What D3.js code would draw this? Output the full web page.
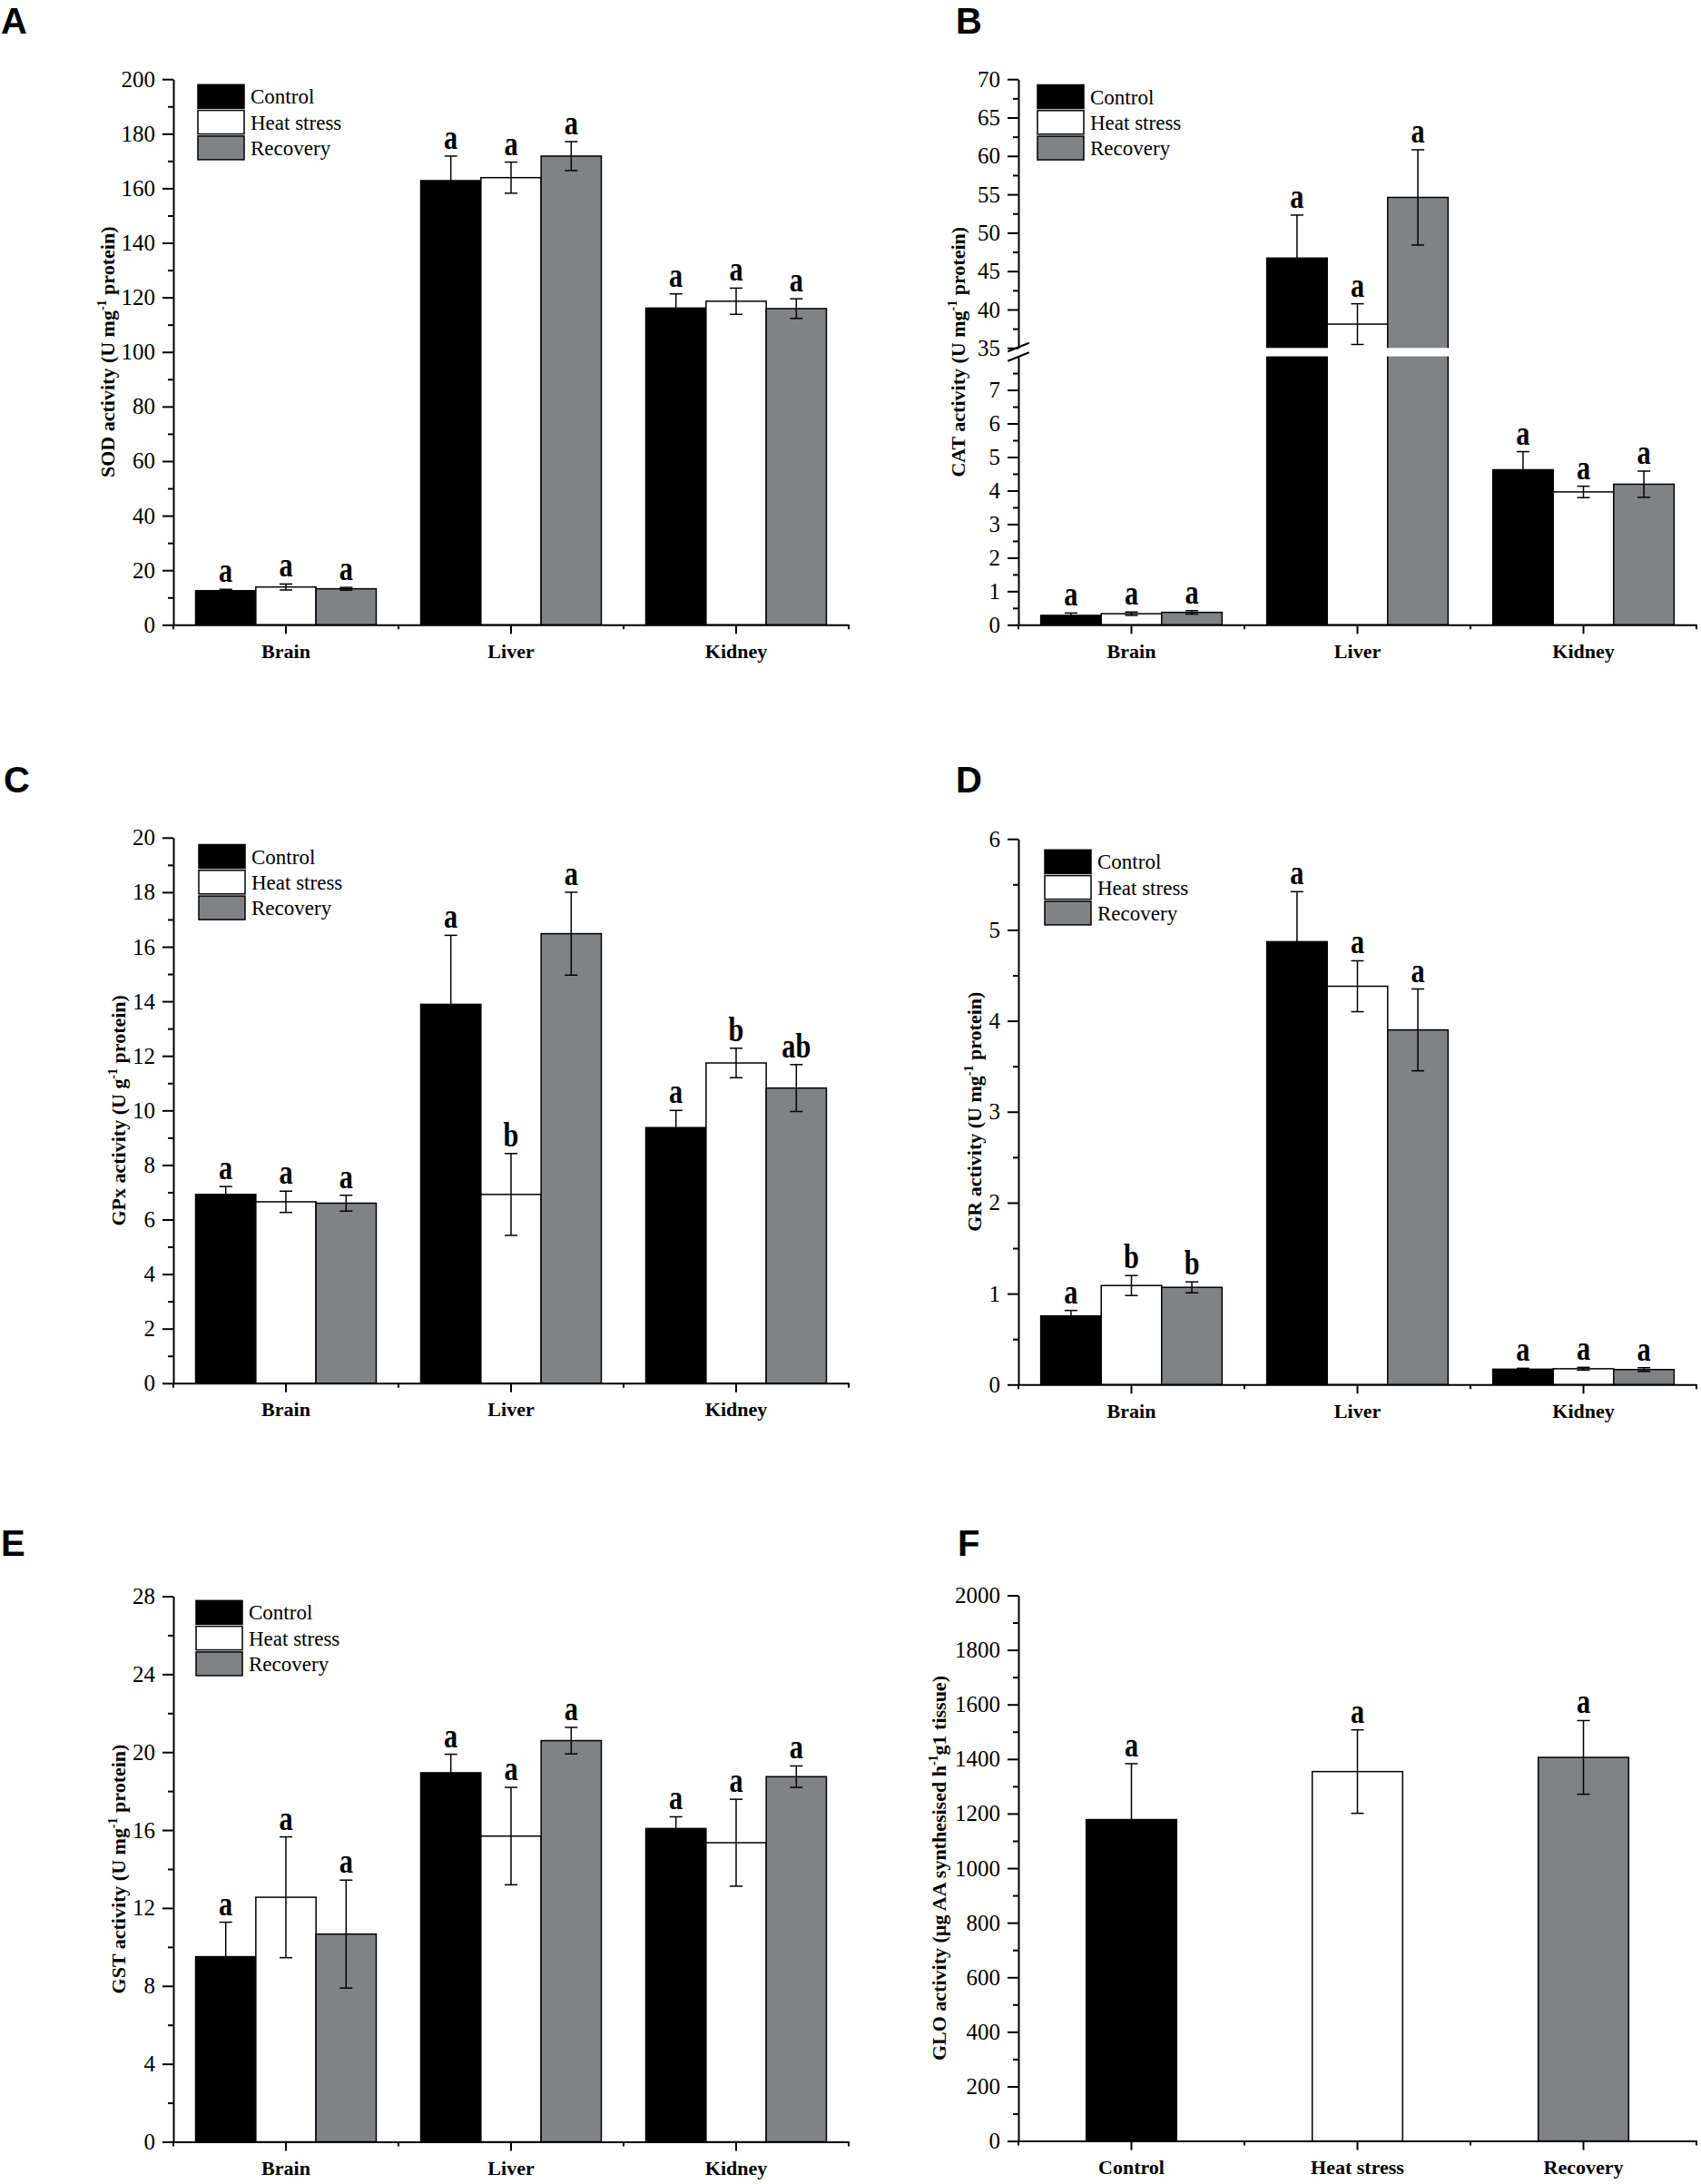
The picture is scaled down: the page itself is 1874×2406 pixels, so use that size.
<!DOCTYPE html>
<html>
<head>
<meta charset="utf-8">
<script src="https://cdn.jsdelivr.net/npm/d3@7"></script>
<style>
body { margin: 0; background: #fff; }
svg text { font-family: "Liberation Serif", "Times New Roman", serif; }
</style>
</head>
<body>
<svg id="fig" width="1874" height="2406"></svg>
<script>
// ---- data ----
var tissues = ['Brain', 'Liver', 'Kidney'];
var groups = ['Control', 'Heat stress', 'Recovery'];
var groupFill = ['#000000', '#ffffff', '#818286'];

// A: SOD, rows = tissue, cols = group
var sodMean = [[12.5, 13.85, 13.2], [162.8, 163.9, 171.8], [116.1, 118.6, 115.9]];
var sodErr  = [[0.5, 1.1, 0.5], [9.0, 5.7, 5.3], [5.2, 4.8, 3.6]];
var sodSig  = [['a', 'a', 'a'], ['a', 'a', 'a'], ['a', 'a', 'a']];
var sodTicks = [0, 20, 40, 60, 80, 100, 120, 140, 160, 180, 200];

// B: CAT (broken axis)
var catMean = [[0.28, 0.33, 0.37], [46.7, 38.1, 54.6], [4.62, 3.96, 4.19]];
var catErr  = [[0.07, 0.05, 0.05], [5.6, 2.65, 6.2], [0.54, 0.17, 0.39]];
var catSig  = [['a', 'a', 'a'], ['a', 'a', 'a'], ['a', 'a', 'a']];
var catTicksLow = [0, 1, 2, 3, 4, 5, 6, 7];
var catTicksHigh = [35, 40, 45, 50, 55, 60, 65, 70];

// C: GPx
var gpxMean = [[6.92, 6.65, 6.6], [13.89, 6.92, 16.48], [9.37, 11.74, 10.82]];
var gpxErr  = [[0.29, 0.39, 0.29], [2.53, 1.5, 1.52], [0.63, 0.54, 0.86]];
var gpxSig  = [['a', 'a', 'a'], ['a', 'b', 'a'], ['a', 'b', 'ab']];
var gpxTicks = [0, 2, 4, 6, 8, 10, 12, 14, 16, 18, 20];

// D: GR
var grMean = [[0.755, 1.089, 1.069], [4.87, 4.38, 3.9], [0.169, 0.174, 0.165]];
var grErr  = [[0.06, 0.11, 0.06], [0.55, 0.28, 0.45], [0.01, 0.015, 0.02]];
var grSig  = [['a', 'b', 'b'], ['a', 'a', 'a'], ['a', 'a', 'a']];
var grTicks = [0, 1, 2, 3, 4, 5, 6];

// E: GST
var gstMean = [[9.5, 12.55, 10.66], [18.94, 15.69, 20.59], [16.08, 15.35, 18.74]];
var gstErr  = [[1.77, 3.1, 2.77], [0.95, 2.5, 0.68], [0.6, 2.23, 0.55]];
var gstSig  = [['a', 'a', 'a'], ['a', 'a', 'a'], ['a', 'a', 'a']];
var gstTicks = [0, 4, 8, 12, 16, 20, 24, 28];

// F: GLO
var gloMean = [1178, 1354, 1406];
var gloErr  = [205, 153, 135];
var gloSig  = ['a', 'a', 'a'];
var gloTicks = [0, 200, 400, 600, 800, 1000, 1200, 1400, 1600, 1800, 2000];

var svg = d3.select('#fig');
var serif = '"Liberation Serif", "Times New Roman", serif';

function minorOf(t) {
    return d3.pairs(t).map(function (p) { return (p[0] + p[1]) / 2; });
}

function styleAxis(g) {
    g.selectAll('path, line').attr('stroke', '#000').attr('stroke-width', 2);
    g.selectAll('text').attr('fill', '#000').style('font-family', serif);
}

function yAxis(g, x0, y, ticks, minor) {
    var ax = g.append('g').attr('transform', 'translate(' + x0 + ',0)')
        .call(d3.axisLeft(y).tickValues(ticks).tickSize(12).tickSizeOuter(0).tickPadding(8)
            .tickFormat(function (d) { return String(d); }))
        .attr('font-size', 25);
    styleAxis(ax);
    var mn = g.append('g').attr('transform', 'translate(' + x0 + ',0)')
        .call(d3.axisLeft(y).tickValues(minor).tickSize(6).tickFormat(''));
    mn.select('.domain').remove();
    styleAxis(mn);
}

function xAxis(g, bot, x, x1) {
    var ax = g.append('g').attr('transform', 'translate(0,' + bot + ')')
        .call(d3.axisBottom(x).tickSize(10).tickSizeOuter(0).tickPadding(11))
        .attr('font-size', 22).attr('font-weight', 'bold');
    styleAxis(ax);
    var edges = x.domain().map(function (c) { return x(c); }).concat([x1]);
    g.selectAll(null).data(edges).enter().append('line')
        .attr('x1', function (d) { return d; }).attr('x2', function (d) { return d; })
        .attr('y1', bot).attr('y2', bot + 5)
        .attr('stroke', '#000').attr('stroke-width', 2);
}

function yTitle(g, cx, cy, parts) {
    var t = g.append('text')
        .attr('transform', 'translate(' + (cx + 7.7) + ',' + cy + ') rotate(-90)')
        .attr('text-anchor', 'middle').attr('font-size', 22).attr('font-weight', 'bold');
    t.append('tspan').text(parts[0]);
    t.append('tspan').attr('dy', -9).attr('font-size', 14).text(parts[1]);
    t.append('tspan').attr('dy', 9).text(parts[2]);
}

function sigLetter(g, x, y, s) {
    g.append('text')
        .attr('transform', 'translate(' + x + ',' + y + ') scale(0.82,1)')
        .attr('text-anchor', 'middle').attr('font-size', 37).attr('font-weight', 'bold')
        .text(s);
}

function legend(g, lx, ly) {
    groups.forEach(function (name, i) {
        var yy = ly + i * 28.3;
        g.append('rect').attr('x', lx).attr('y', yy).attr('width', 51).attr('height', 26)
            .attr('fill', groupFill[i]).attr('stroke', '#000').attr('stroke-width', 1.5);
        g.append('text').attr('x', lx + 58).attr('y', yy + 13 + 8)
            .attr('font-size', 23).text(name);
    });
}

function panelLetter(x, y, s) {
    svg.append('text').attr('x', x).attr('y', y).text(s)
        .attr('font-size', 40).attr('font-weight', 'bold')
        .style('font-family', '"Liberation Sans", Arial, sans-serif');
}

function errBar(g, cx, yTop, yBot) {
    g.append('line').attr('x1', cx).attr('x2', cx).attr('y1', yTop).attr('y2', yBot)
        .attr('stroke', '#000').attr('stroke-width', 1.5);
    [yTop, yBot].forEach(function (yy) {
        g.append('line').attr('x1', cx - 7).attr('x2', cx + 7).attr('y1', yy).attr('y2', yy)
            .attr('stroke', '#000').attr('stroke-width', 1.5);
    });
}

// grouped bar panel (tissue x group); yf maps a value to pixels
function groupedBars(g, cfg, yf) {
    var x0 = d3.scaleBand().domain(tissues).range([cfg.x0, cfg.x1]).padding(0);
    var x1 = d3.scaleBand().domain(groups).range([0, x0.bandwidth()])
        .paddingInner(0).paddingOuter(0.37);
    var rows = [];
    tissues.forEach(function (t, ti) {
        groups.forEach(function (gr, gi) {
            rows.push({ t: t, g: gr, gi: gi, v: cfg.mean[ti][gi], e: cfg.err[ti][gi], s: cfg.sig[ti][gi] });
        });
    });
    g.selectAll(null).data(rows).enter().append('rect')
        .attr('x', function (d) { return x0(d.t) + x1(d.g); })
        .attr('width', x1.bandwidth())
        .attr('y', function (d) { return yf(d.v); })
        .attr('height', function (d) { return yf(0) - yf(d.v); })
        .attr('fill', function (d) { return groupFill[d.gi]; })
        .attr('stroke', '#000').attr('stroke-width', 1.5);
    if (cfg.gap) {
        g.append('rect').attr('x', cfg.x0 + 2).attr('y', cfg.gap[0])
            .attr('width', cfg.x1 - cfg.x0 - 2).attr('height', cfg.gap[1] - cfg.gap[0])
            .attr('fill', '#fff');
    }
    rows.forEach(function (d) {
        var cx = x0(d.t) + x1(d.g) + x1.bandwidth() / 2;
        errBar(g, cx, yf(d.v + d.e), yf(d.v - d.e));
        sigLetter(g, cx, yf(d.v + d.e) - 8, d.s);
    });
    xAxis(g, cfg.bot, x0, cfg.x1);
}

// ---- A: SOD ----
(function () {
    var cfg = { x0: 191, x1: 935, top: 87.2, bot: 688.3, mean: sodMean, err: sodErr, sig: sodSig };
    var g = svg.append('g');
    var y = d3.scaleLinear().domain([0, 200]).range([cfg.bot, cfg.top]);
    groupedBars(g, cfg, y);
    yAxis(g, cfg.x0, y, sodTicks, minorOf(sodTicks));
    yTitle(g, 118, (cfg.top + cfg.bot) / 2, ['SOD activity (U mg', '-1', ' protein)']);
    legend(g, 218, 93.3);
    panelLetter(1, 37, 'A');
})();

// ---- B: CAT (broken y axis) ----
(function () {
    var cfg = { x0: 1122, x1: 1869, top: 87.2, bot: 688.3, mean: catMean, err: catErr, sig: catSig,
        gap: [383.3, 392.6] };
    var g = svg.append('g');
    var yLow = d3.scaleLinear().domain([0, 8]).range([cfg.bot, 392.6]);
    var yHigh = d3.scaleLinear().domain([35, 70]).range([383.3, cfg.top]);
    var yf = function (v) { return v <= 8 ? yLow(v) : yHigh(v); };
    groupedBars(g, cfg, yf);
    yAxis(g, cfg.x0, yLow, catTicksLow, minorOf(catTicksLow.concat([8])));
    yAxis(g, cfg.x0, yHigh, catTicksHigh, minorOf(catTicksHigh));
    [382.5, 393].forEach(function (yy) {
        g.append('line').attr('x1', cfg.x0 - 11.7).attr('y1', yy + 4.8)
            .attr('x2', cfg.x0 + 11.7).attr('y2', yy - 4.8)
            .attr('stroke', '#000').attr('stroke-width', 2);
    });
    yTitle(g, 1055, (cfg.top + cfg.bot) / 2, ['CAT activity (U mg', '-1', ' protein)']);
    legend(g, 1143, 93.5);
    panelLetter(1053, 37, 'B');
})();

// ---- C: GPx ----
(function () {
    var cfg = { x0: 191, x1: 935, top: 922.8, bot: 1523.8, mean: gpxMean, err: gpxErr, sig: gpxSig };
    var g = svg.append('g');
    var y = d3.scaleLinear().domain([0, 20]).range([cfg.bot, cfg.top]);
    groupedBars(g, cfg, y);
    yAxis(g, cfg.x0, y, gpxTicks, minorOf(gpxTicks));
    yTitle(g, 130, (cfg.top + cfg.bot) / 2, ['GPx activity (U g', '-1', ' protein)']);
    legend(g, 219, 930.5);
    panelLetter(4, 873, 'C');
})();

// ---- D: GR ----
(function () {
    var cfg = { x0: 1122, x1: 1869, top: 924.2, bot: 1525.3, mean: grMean, err: grErr, sig: grSig };
    var g = svg.append('g');
    var y = d3.scaleLinear().domain([0, 6]).range([cfg.bot, cfg.top]);
    groupedBars(g, cfg, y);
    yAxis(g, cfg.x0, y, grTicks, minorOf(grTicks));
    yTitle(g, 1073, (cfg.top + cfg.bot) / 2, ['GR activity (U mg', '-1', ' protein)']);
    legend(g, 1151, 936.3);
    panelLetter(1053, 873, 'D');
})();

// ---- E: GST ----
(function () {
    var cfg = { x0: 191, x1: 935, top: 1758.5, bot: 2359.5, mean: gstMean, err: gstErr, sig: gstSig };
    var g = svg.append('g');
    var y = d3.scaleLinear().domain([0, 28]).range([cfg.bot, cfg.top]);
    groupedBars(g, cfg, y);
    yAxis(g, cfg.x0, y, gstTicks, minorOf(gstTicks));
    yTitle(g, 130, (cfg.top + cfg.bot) / 2, ['GST activity (U mg', '-1', ' protein)']);
    legend(g, 216, 1763.3);
    panelLetter(1, 1714, 'E');
})();

// ---- F: GLO ----
(function () {
    var x0 = 1122, x1 = 1869, top = 1757.5, bot = 2358.6;
    var g = svg.append('g');
    var y = d3.scaleLinear().domain([0, 2000]).range([bot, top]);
    var x = d3.scaleBand().domain(groups).range([x0, x1]).paddingInner(0.6).paddingOuter(0.3);
    var xa = d3.scaleBand().domain(groups).range([x0, x1]).padding(0);
    g.selectAll(null).data(groups).enter().append('rect')
        .attr('x', function (d) { return x(d); })
        .attr('width', x.bandwidth())
        .attr('y', function (d, i) { return y(gloMean[i]); })
        .attr('height', function (d, i) { return y(0) - y(gloMean[i]); })
        .attr('fill', function (d, i) { return groupFill[i]; })
        .attr('stroke', '#000').attr('stroke-width', 1.5);
    groups.forEach(function (d, i) {
        var cx = x(d) + x.bandwidth() / 2;
        errBar(g, cx, y(gloMean[i] + gloErr[i]), y(gloMean[i] - gloErr[i]));
        sigLetter(g, cx, y(gloMean[i] + gloErr[i]) - 8, gloSig[i]);
    });
    xAxis(g, bot, xa, x1);
    yAxis(g, x0, y, gloTicks, minorOf(gloTicks));
    yTitle(g, 1034, (top + bot) / 2, ['GLO activity (\u00b5g AA synthesised h', '-1', 'g1 tissue)']);
    panelLetter(1055, 1714, 'F');
})();
</script>
</body>
</html>
